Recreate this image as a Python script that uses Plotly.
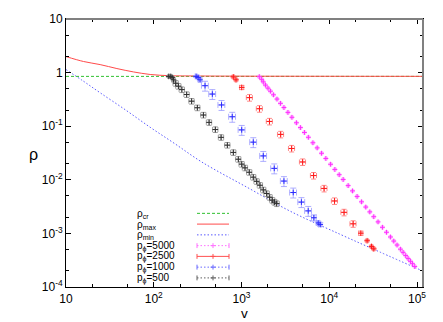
"""Critical / max / min density curves with p_phi runs (log-log)."""
import plotly.graph_objects as go

# ---- data ---------------------------------------------------------------
X_TICKS = [10, 100, 1000, 1e4, 1e5]
X_TICK_TEXT = ["10", "10<sup>2</sup>", "10<sup>3</sup>", "10<sup>4</sup>", "10<sup>5</sup>"]
Y_TICKS = [1e-4, 1e-3, 1e-2, 1e-1, 1, 10]
Y_TICK_TEXT = ["10<sup>-4</sup>", "10<sup>-3</sup>", "10<sup>-2</sup>", "10<sup>-1</sup>", "1", "10"]

RHO_CR_V = [10, 1.17e5]
RHO_CR = [0.85, 0.85]

RHO_MAX_V = [10, 15.85, 24.5, 38, 58.7, 91, 154, 300, 1000, 1e4, 1.17e5]
RHO_MAX = [1.99, 1.61, 1.41, 1.19, 1.03, 0.923, 0.875, 0.865, 0.858, 0.854, 0.852]

RHO_MIN_V = [10, 15.85, 24.5, 47.3, 91, 175, 352, 1249, 3563, 13200, 37640, 1.17e5]
RHO_MIN = [1.14, 0.689, 0.42, 0.203, 0.0955, 0.0468, 0.0215, 0.00676, 0.00261, 9.67e-4, 4.5e-4, 1.98e-4]

P5000_V = [1594, 1698, 1770, 1875, 2002, 2138, 2312, 2535, 2779, 3045,
           3381, 3754, 4224, 4690, 5212, 5781, 6509, 7278, 8166, 9141,
           10350, 11580, 12970, 14390, 16410, 18410, 20750, 23310, 26070, 28970,
           32140, 35970, 40370, 44870, 49780, 54330, 59220, 64710, 69340, 74300,
           79070, 84140, 88720, 94190]
P5000_RHO = [0.84, 0.75, 0.67, 0.585, 0.513, 0.450, 0.385, 0.321, 0.267, 0.223,
             0.181, 0.1466, 0.1159, 0.0942, 0.0764, 0.0621, 0.0491, 0.0394, 0.0313, 0.0250,
             0.0195, 0.0156, 0.01245, 0.01014, 0.0078, 0.00621, 0.00489, 0.00388, 0.00310, 0.00252,
             0.00205, 0.00164, 0.00130, 0.00105, 8.57e-4, 7.2e-4, 6.07e-4, 5.08e-4, 4.43e-4, 3.86e-4,
             3.41e-4, 3.02e-4, 2.72e-4, 2.41e-4]
P5000_DV = 4.0      # percent
P5000_DRHO = 7.0    # percent

P2500_V = [807, 866, 1005, 1233, 1602, 2082, 2793, 3725, 4968, 6626,
           8727, 11480, 14740, 18700, 22880, 26990, 30280, 32150]
P2500_RHO = [0.831, 0.733, 0.529, 0.341, 0.212, 0.1227, 0.0703, 0.0384, 0.0215, 0.0120,
             0.0069, 0.00403, 0.00247, 0.00151, 0.00101, 7.3e-4, 5.71e-4, 5.15e-4]
P2500_DV = [3, 3, 5.5, 8, 8, 8, 8, 8, 8, 8, 8, 8, 8, 8, 5.5, 3, 3, 3]
P2500_DRHO = [5, 5, 9, 14, 14, 14, 14, 14, 14, 14, 14, 14, 14, 14, 9, 5, 5, 5]

P1000_V = [304, 320, 337, 384, 465, 592, 784, 1005, 1362, 1770,
           2361, 3045, 3884, 4814, 5754, 6679, 7475, 7891]
P1000_RHO = [0.849, 0.814, 0.733, 0.570, 0.398, 0.249, 0.150, 0.0853, 0.0504, 0.0279,
             0.01635, 0.00947, 0.00579, 0.00384, 0.00263, 0.00196, 0.00157, 0.00146]
P1000_DV = [2.5, 2.5, 4, 9, 9, 9, 9, 9, 9, 9, 9, 9, 9, 9, 9, 6, 4, 4]
P1000_DRHO = [4, 4, 8, 21, 21, 21, 21, 21, 21, 21, 21, 21, 21, 21, 21, 13, 8, 8]

P500_V = [148, 156, 162, 168, 178, 191, 209, 237, 270, 314,
          368, 427, 503, 585, 690, 807, 920, 1005, 1096, 1226,
          1362, 1489, 1623, 1770, 1935, 2093, 2240, 2373, 2516]
P500_RHO = [0.849, 0.849, 0.814, 0.733, 0.633, 0.558, 0.482, 0.390, 0.293, 0.221,
            0.1616, 0.1178, 0.0867, 0.0619, 0.0443, 0.0324, 0.0242, 0.0196, 0.0167, 0.01382,
            0.0112, 0.00935, 0.00791, 0.00649, 0.00555, 0.00473, 0.00417, 0.00384, 0.0036]
P500_DV = [2.5, 2.5, 2.5, 4, 7, 7, 7, 7, 7, 7, 7, 7, 7, 7, 7, 7, 7, 7, 7, 7, 7, 7, 7, 7, 7, 7, 7, 7, 7]
P500_DRHO = [4, 4, 4, 8, 12, 12, 12, 12, 12, 12, 12, 12, 12, 12, 12, 12, 12, 12, 12, 12,
             12, 12, 12, 12, 12, 12, 12, 12, 12]

# ---- layout constants ---------------------------------------------------
W, H = 443, 322
M_L, M_R, M_T, M_B = 66, 20, 13, 35
FONT = "Liberation Sans, Arial, sans-serif"

GREEN = "#30c030"
RED = "#ff4a4a"
BLUE = "#5a5aff"


def px_x(px: float) -> float:
    return (px - M_L) / (W - M_L - M_R)


def px_y(py: float) -> float:
    return (H - M_B - py) / (H - M_T - M_B)


def _err(values, pct):
    if isinstance(pct, (int, float)):
        pct = [pct] * len(values)
    return [v * p / 100.0 for v, p in zip(values, pct)]


def errorbar_trace(v, rho, dv, drho, color, bar_color, cap, name, size=4):
    return go.Scatter(
        x=v,
        y=rho,
        mode="markers",
        name=name,
        marker={"symbol": "cross-thin", "size": size, "color": color,
                "line": {"width": 1, "color": color}},
        error_x={"type": "data", "array": _err(v, dv), "color": bar_color,
                 "thickness": 0.8, "width": cap},
        error_y={"type": "data", "array": _err(rho, drho), "color": bar_color,
                 "thickness": 0.8, "width": cap},
        showlegend=False,
    )


fig = go.Figure()

fig.add_trace(go.Scatter(x=RHO_CR_V, y=RHO_CR, mode="lines",
                         line={"color": GREEN, "width": 1, "dash": "3px,2px"}, showlegend=False))
fig.add_trace(go.Scatter(x=RHO_MAX_V, y=RHO_MAX, mode="lines", line_shape="spline",
                         line={"color": RED, "width": 1}, showlegend=False))
fig.add_trace(go.Scatter(x=RHO_MIN_V, y=RHO_MIN, mode="lines", line_shape="spline",
                         line={"color": BLUE, "width": 1, "dash": "1.5px,2px"}, showlegend=False))

fig.add_trace(errorbar_trace(P5000_V, P5000_RHO, P5000_DV, P5000_DRHO,
                             "#ff30ff", "#ffa0ff", 1.5, "p5000", size=3.5))
fig.add_trace(errorbar_trace(P2500_V, P2500_RHO, P2500_DV, P2500_DRHO,
                             "#ff1a1a", "#ff7070", 2.5, "p2500"))
fig.add_trace(errorbar_trace(P1000_V, P1000_RHO, P1000_DV, P1000_DRHO,
                             "#2a2aff", "#9a9aff", 3, "p1000"))
fig.add_trace(errorbar_trace(P500_V, P500_RHO, P500_DV, P500_DRHO,
                             "#303030", "#8a8a8a", 2.5, "p500"))

# ---- custom gnuplot-style key ---------------------------------------------
key_rows = [
    ("ρ<sub>cr</sub>", GREEN, "3px,2px", False),
    ("ρ<sub>max</sub>", RED, "solid", False),
    ("ρ<sub>min</sub>", BLUE, "1.5px,2px", False),
    ("p<sub>ϕ</sub>=5000", "#ff70ff", "1.5px,2px", True),
    ("p<sub>ϕ</sub>=2500", "#ff5050", "solid", True),
    ("p<sub>ϕ</sub>=1000", "#6a6aff", "1.5px,2px", True),
    ("p<sub>ϕ</sub>=500", "#606060", "1.5px,2px", True),
]
key_y0, key_dy = 211.7, 11.0
text_x, line_x0, line_x1 = 135, 197, 229
shapes = []
annotations = []
for i, (label, color, dash, bars) in enumerate(key_rows):
    y = key_y0 + i * key_dy
    annotations.append(dict(x=px_x(text_x), y=px_y(y + 0.5), xref="paper", yref="paper",
                            text=label, showarrow=False, xanchor="left", yanchor="middle",
                            font={"size": 10, "color": "#000", "family": FONT}))
    shapes.append(dict(type="line", xref="paper", yref="paper",
                       x0=px_x(line_x0), x1=px_x(line_x1), y0=px_y(y), y1=px_y(y),
                       line={"color": color, "width": 1, "dash": dash}))
    if bars:
        xc = (line_x0 + line_x1) / 2
        for xs in (line_x0, line_x1):
            shapes.append(dict(type="line", xref="paper", yref="paper",
                               x0=px_x(xs), x1=px_x(xs), y0=px_y(y - 2.5), y1=px_y(y + 2.5),
                               line={"color": color, "width": 1}))
        shapes.append(dict(type="line", xref="paper", yref="paper",
                           x0=px_x(xc), x1=px_x(xc), y0=px_y(y - 2.5), y1=px_y(y + 2.5),
                           line={"color": color, "width": 1}))
        shapes.append(dict(type="line", xref="paper", yref="paper",
                           x0=px_x(xc - 2.5), x1=px_x(xc + 2.5), y0=px_y(y), y1=px_y(y),
                           line={"color": color, "width": 1}))

# border (top/right drawn grey like the original)
shapes.append(dict(type="line", xref="paper", yref="paper", x0=0, x1=1, y0=1, y1=1,
                   line={"color": "#808080", "width": 2}))
shapes.append(dict(type="line", xref="paper", yref="paper", x0=1, x1=1, y0=0, y1=1,
                   line={"color": "#808080", "width": 2}))

# axis titles
annotations.append(dict(x=px_x(33), y=px_y(152), xref="paper", yref="paper", text="ρ",
                        xanchor="center", yanchor="middle", showarrow=False,
                        font={"size": 16, "family": FONT, "color": "#000"}))
annotations.append(dict(x=px_x(244), y=px_y(314.5), xref="paper", yref="paper", text="v",
                        xanchor="center", yanchor="middle", showarrow=False, borderpad=0,
                        font={"size": 13.5, "family": FONT, "color": "#000"}))

minor_x = [m * 10 ** e for e in range(1, 6) for m in (2, 5)]
minor_y = [m * 10 ** e for e in range(-4, 1) for m in (2, 5)]

axis_common = dict(
    type="log",
    ticks="inside",
    ticklen=5,
    tickcolor="#000",
    showline=True,
    linecolor="#000",
    linewidth=1,
    mirror="allticks",
    showgrid=False,
    zeroline=False,
    tickfont={"size": 12, "family": FONT, "color": "#000"},
)
fig.update_xaxes(
    range=[1, 5.068],
    tickvals=X_TICKS,
    ticktext=X_TICK_TEXT,
    ticklabelstandoff=1,
    minor={"tickvals": minor_x, "ticks": "inside", "ticklen": 3, "tickcolor": "#000"},
    **axis_common,
)
fig.update_yaxes(
    range=[-4, 1],
    tickvals=Y_TICKS,
    ticktext=Y_TICK_TEXT,
    minor={"tickvals": minor_y, "ticks": "inside", "ticklen": 3, "tickcolor": "#000"},
    **axis_common,
)
fig.update_layout(
    width=W,
    height=H,
    margin={"l": M_L, "r": M_R, "t": M_T, "b": M_B},
    paper_bgcolor="#ffffff",
    plot_bgcolor="#ffffff",
    showlegend=False,
    shapes=shapes,
    annotations=annotations,
    font={"family": FONT},
)

fig.write_html(
    "out.html",
    config={"displayModeBar": False},
    post_script="document.body.style.margin='0';",
)
